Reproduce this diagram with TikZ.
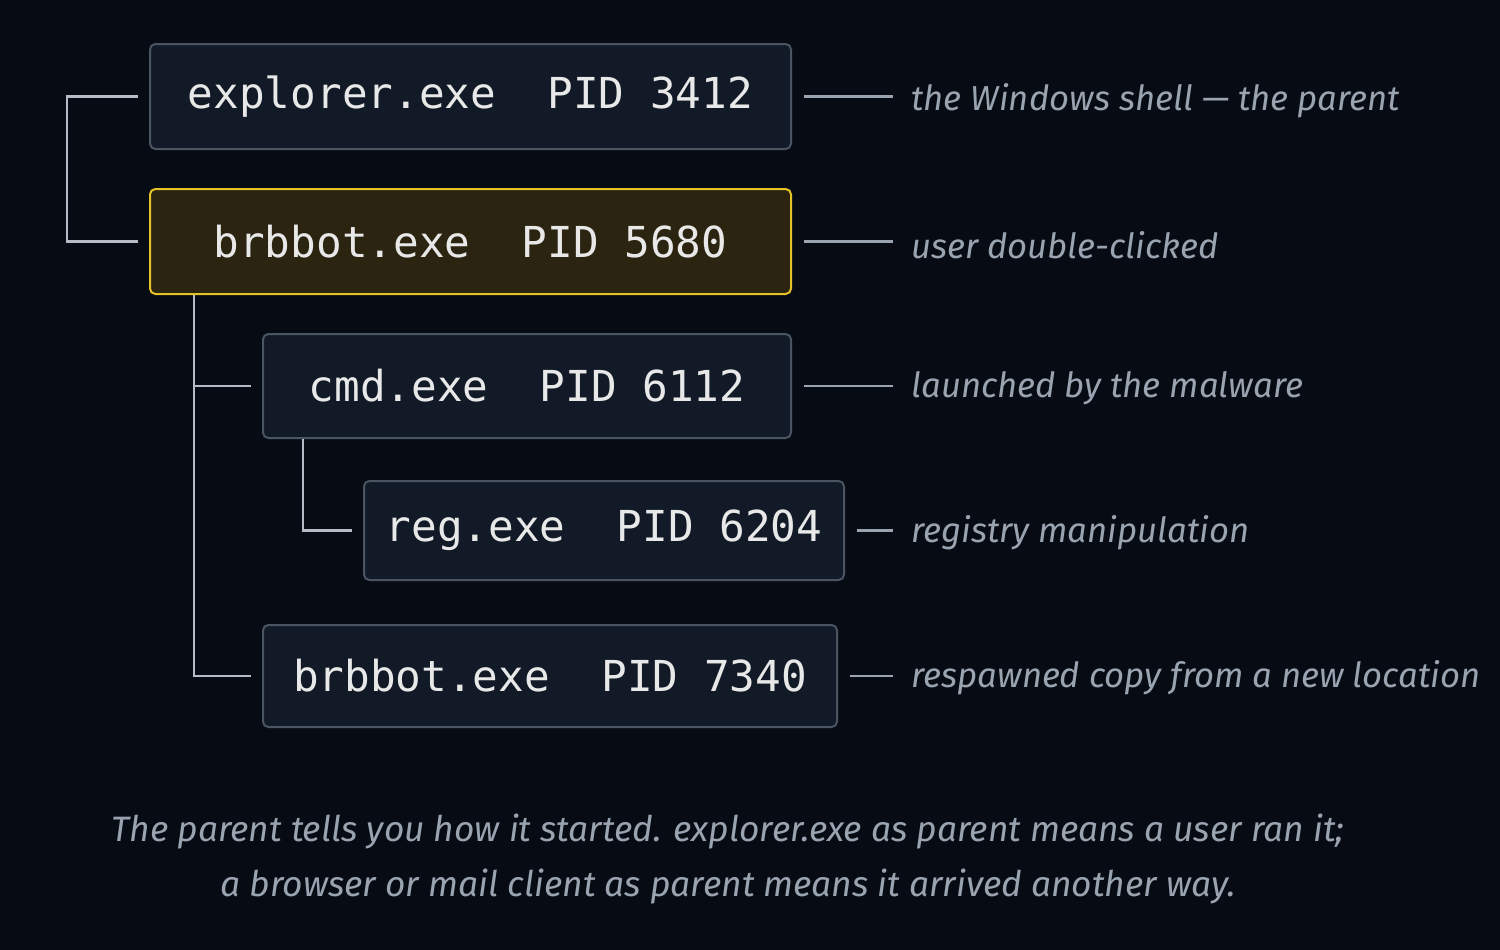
\documentclass[tikz,border=0pt]{standalone}
\usepackage{fontspec}
\setmonofont{DejaVu Sans Mono}
\newfontfamily\notefont{Fira Sans}
\usetikzlibrary{positioning}
\definecolor{bgnavy}{HTML}{070B14}
\definecolor{boxfill}{HTML}{111A26}
\definecolor{boxline}{HTML}{4A5563}
\definecolor{hifill}{HTML}{2A2410}
\definecolor{hiline}{HTML}{E6C229}
\definecolor{proctext}{HTML}{E8E8E8}
\definecolor{notetext}{HTML}{9AA3B0}
\definecolor{treeline}{HTML}{B5BCC6}
\tikzset{every picture/.style={line width=0.75pt}}
\tikzset{
  proc/.style={draw=boxline, fill=boxfill, rounded corners=4pt, line width=1.5pt, anchor=north west, inner sep=0pt, text=proctext, font=\ttfamily\fontsize{32}{38}\selectfont},
  hiproc/.style={proc, draw=hiline, fill=hifill},
  note/.style={anchor=west, inner sep=0pt, text=notetext, font=\notefont\itshape\fontsize{26}{32}\selectfont},
  tree/.style={draw=treeline, line width=2pt},
  notedash/.style={draw=notetext, line width=2pt}
}

\begin{document}
\begin{tikzpicture}[x=0.75pt,y=0.75pt,yscale=-1,xscale=1]
\fill [bgnavy] (0,0) rectangle (1500,950);

% process boxes
\node [proc, minimum width=641*0.75pt, minimum height=105*0.75pt] (explorer) at (149,43) {explorer.exe\ \ PID 3412};
\node [hiproc, minimum width=641*0.75pt, minimum height=105*0.75pt] (brbbot) at (149,188) {brbbot.exe\ \ PID 5680};
\node [proc, minimum width=528*0.75pt, minimum height=104*0.75pt] (cmd) at (262,333) {cmd.exe\ \ PID 6112};
\node [proc, minimum width=480*0.75pt, minimum height=99*0.75pt] (reg) at (363,480) {reg.exe\ \ PID 6204};
\node [proc, minimum width=574*0.75pt, minimum height=102*0.75pt] (respawn) at (262,624) {brbbot.exe\ \ PID 7340};

% tree connectors
\draw [tree] ([xshift=-11*0.75pt]explorer.west) -- ++(-71,0) |- ([xshift=-11*0.75pt]brbbot.west);
\draw [tree] ([xshift=45*0.75pt]brbbot.south west) |- ([xshift=-11*0.75pt]respawn.west);
\draw [tree] ([xshift=45*0.75pt]brbbot.south west |- cmd.west) -- ([xshift=-11*0.75pt]cmd.west);
\draw [tree] ([xshift=41*0.75pt]cmd.south west) |- ([xshift=-11*0.75pt]reg.west);

% notes
\node [note] (n1) at (911,101) {the Windows shell — the parent};
\node [note] (n2) at (911,245) {user double-clicked};
\node [note] (n3) at (911,388) {launched by the malware};
\node [note] (n4) at (911,533) {registry manipulation};
\node [note] (n5) at (911,678) {respawned copy from a new location};
\draw [notedash] ([xshift=12*0.75pt]explorer.east) -- ([xshift=-18*0.75pt]n1.west |- explorer.east);
\draw [notedash] ([xshift=12*0.75pt]brbbot.east) -- ([xshift=-18*0.75pt]n2.west |- brbbot.east);
\draw [notedash] ([xshift=12*0.75pt]cmd.east) -- ([xshift=-18*0.75pt]n3.west |- cmd.east);
\draw [notedash] ([xshift=12*0.75pt]reg.east) -- ([xshift=-18*0.75pt]n4.west |- reg.east);
\draw [notedash] ([xshift=12*0.75pt]respawn.east) -- ([xshift=-18*0.75pt]n5.west |- respawn.east);

% caption
\node [note, anchor=center, align=center, font=\notefont\itshape\fontsize{26.5}{41}\selectfont] (caption) at (728,859) {The parent tells you how it started. explorer.exe as parent means a user ran it;\\a browser or mail client as parent means it arrived another way.};
\end{tikzpicture}
\end{document}
